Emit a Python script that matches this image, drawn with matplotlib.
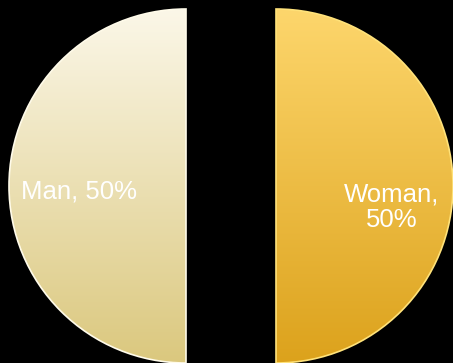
import numpy as np
import matplotlib.pyplot as plt
from matplotlib.colors import LinearSegmentedColormap

labels = ['Man', 'Woman']
shares = [50, 50]
label_text = ['Man, 50%', 'Woman,\n50%']

# top -> bottom gradient colours for each half
top_colors = ['#fbf7e8', '#fdd66c']
bottom_colors = ['#dbc87e', '#dca21c']
edge_colors = ['#fffbea', '#ffe27a']

plt.rcParams['font.family'] = ['Liberation Sans', 'DejaVu Sans']

W, H = 453, 363
fig = plt.figure(figsize=(W / 100, H / 100), dpi=100, facecolor='black')
ax = fig.add_axes([0, 0, 1, 1], facecolor='black')

R = 177
cx, cy = 231, 177
wedges, _ = ax.pie(shares, center=(cx, cy), radius=R, startangle=90,
                   counterclock=True, explode=[45, 45],
                   wedgeprops=dict(linewidth=1.2))

grad = np.linspace(0, 1, 256).reshape(-1, 1)
for i, w in enumerate(wedges):
    cmap = LinearSegmentedColormap.from_list('g%d' % i, [top_colors[i], bottom_colors[i]])
    wx, wy = w.center
    im = ax.imshow(grad, cmap=cmap, aspect='auto', origin='upper',
                   extent=[wx - R, wx + R, wy - R, wy + R], zorder=1)
    im.set_clip_path(w)
    w.set_facecolor('none')
    w.set_edgecolor(edge_colors[i])
    w.set_zorder(2)

# labels inside each half
offsets = [(-0.605, -0.03), (0.655, -0.12)]
for w, txt, (dx, dy) in zip(wedges, label_text, offsets):
    wx, wy = w.center
    ax.text(wx + dx * R, wy + dy * R, txt, color='white', fontsize=18.5,
            ha='center', va='center', linespacing=1.1, zorder=3)

ax.set_xlim(0, W)
ax.set_ylim(0, H)
ax.set_aspect('auto')
ax.axis('off')

fig.savefig('out.png', dpi=100, facecolor='black')
